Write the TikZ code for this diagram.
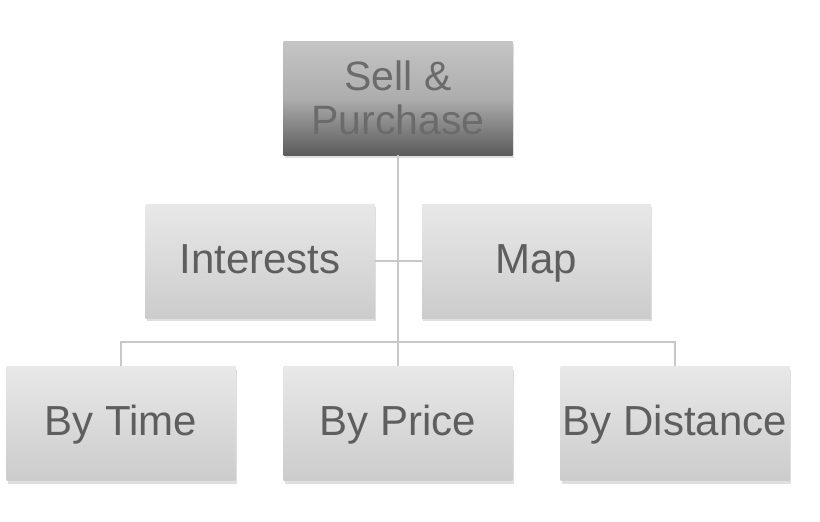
\documentclass[tikz,border=0pt]{standalone}
\usepackage{fontspec}
\setmainfont{Liberation Sans}
\usetikzlibrary{shadows}

\definecolor{txtgray}{HTML}{5E5E5E}
\definecolor{linegray}{HTML}{C8C8C8}

\tikzset{
  box/.style={minimum width=229pt, minimum height=114pt, inner sep=0pt,
    top color=black!9, bottom color=black!20, text=txtgray,
    font=\fontsize{42}{44}\selectfont, text height=32pt, text depth=8pt,
    drop shadow={shadow xshift=1pt, shadow yshift=-3pt, opacity=0.25}},
  topbox/.style={box, top color=black!23, bottom color=black!64,
    middle color=black!32, text=black!58, text height=, text depth=,
    font=\fontsize{41}{44}\selectfont, align=center},
  link/.style={draw=linegray, line width=1.6pt}
}

\begin{document}
\begin{tikzpicture}[x=1pt,y=-1pt]
        \useasboundingbox (0,0) rectangle (820,522);

        \node[topbox] (sell) at (398,98) {Sell \&\\Purchase};

        \node[box] (inter) at (260,261) {Interests};
        \node[box] (map) at (536.5,261) {Map};

        \node[box] (time) at (121,423.5) {By Time};
        \node[box] (price) at (398,423.5) {By Price};
        \node[box] (dist) at (675,423.5) {By Distance};

        \coordinate (bus) at (398,342);

        \begin{scope}[on background layer/.try]
        \draw[link] (sell.south) -- (price.north);
        \draw[link] (inter.east) -- (map.west);
        \draw[link] (time.north) -- (time.north |- bus) -- (dist.north |- bus) -- (dist.north);
        \end{scope}
    \end{tikzpicture}
\end{document}
